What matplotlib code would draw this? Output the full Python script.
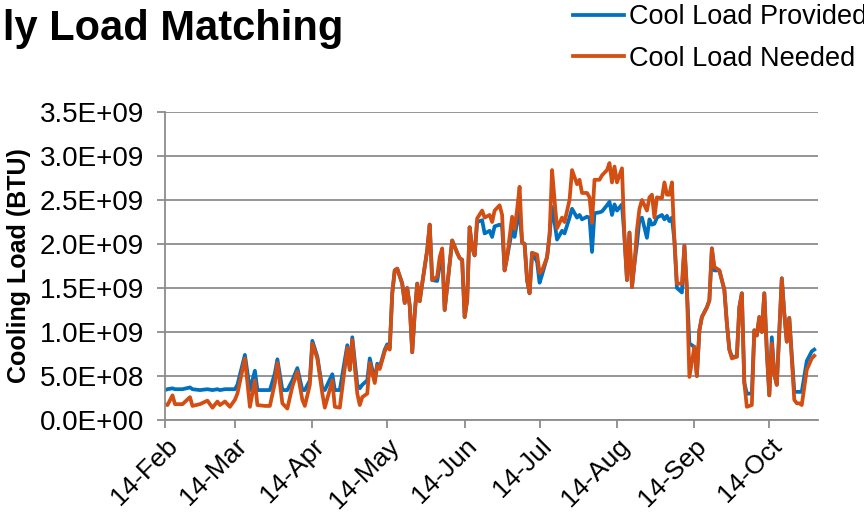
import matplotlib
matplotlib.use("Agg")
import matplotlib.pyplot as plt
import matplotlib.dates as mdates
from matplotlib.ticker import FuncFormatter, MultipleLocator
import pandas as pd

plt.rcParams['font.family'] = ['Liberation Sans', 'DejaVu Sans']

# days after 14-Feb
days = [0, 1, 3, 4, 7, 10, 11, 14, 17, 19,
        21, 22, 24, 26, 28, 29, 32, 34, 36, 37,
        40, 42, 44, 45, 47, 49, 51, 53, 55, 56,
        58, 59, 61, 63, 64, 67, 68, 70, 73, 74,
        75, 77, 78, 79, 81, 82, 84, 85, 86, 88,
        89, 90, 91, 92, 93, 95, 96, 97, 98, 99,
        100, 101, 102, 103, 105, 106, 107, 109, 110, 111,
        112, 114, 115, 117, 118, 119, 120, 121, 122, 123,
        124, 125, 127, 128, 130, 131, 132, 134, 135, 136,
        137, 139, 140, 141, 142, 143, 144, 145, 146, 147,
        149, 150, 151, 153, 154, 155, 156, 157, 159, 160,
        162, 163, 165, 166, 167, 169, 170, 171, 172, 174,
        175, 177, 178, 179, 180, 181, 183, 184, 185, 186,
        187, 188, 189, 190, 191, 193, 194, 195, 196, 197,
        199, 200, 201, 202, 203, 204, 205, 207, 208, 209,
        210, 212, 213, 214, 215, 217, 218, 219, 220, 222,
        224, 225, 226, 227, 229, 230, 231, 232, 233, 235,
        236, 237, 238, 239, 240, 241, 242, 243, 244, 245,
        247, 248, 249, 250, 252, 253, 254, 255, 257, 259,
        260]

# values in 1E+09 BTU
provided = [0.34, 0.35, 0.36, 0.35, 0.35, 0.37, 0.35, 0.34, 0.35, 0.34,
            0.35, 0.34, 0.35, 0.35, 0.35, 0.40, 0.74, 0.34, 0.56, 0.34,
            0.34, 0.34, 0.53, 0.69, 0.34, 0.34, 0.45, 0.59, 0.34, 0.34,
            0.45, 0.90, 0.72, 0.36, 0.34, 0.52, 0.34, 0.34, 0.85, 0.57,
            0.94, 0.40, 0.36, 0.40, 0.45, 0.70, 0.45, 0.64, 0.60, 0.80,
            0.86, 0.82, 1.44, 1.70, 1.72, 1.55, 1.33, 1.50, 1.30, 0.77,
            1.21, 1.55, 1.35, 1.55, 1.93, 2.22, 1.59, 1.58, 1.75, 1.90,
            1.25, 1.78, 2.04, 1.90, 1.84, 1.82, 1.17, 1.36, 2.19, 1.96,
            1.87, 2.25, 2.27, 2.12, 2.15, 2.08, 2.20, 2.22, 2.20, 1.70,
            1.85, 2.16, 2.08, 2.25, 2.37, 2.02, 2.00, 1.59, 1.44, 1.90,
            1.80, 1.56, 1.65, 1.85, 2.10, 2.42, 2.25, 2.05, 2.15, 2.12,
            2.30, 2.40, 2.30, 2.33, 2.28, 2.31, 2.30, 1.91, 2.35, 2.36,
            2.37, 2.44, 2.48, 2.33, 2.45, 2.38, 2.45, 2.08, 1.59, 2.13,
            1.51, 1.78, 2.00, 2.28, 2.30, 2.07, 2.28, 2.22, 2.23, 2.30,
            2.33, 2.28, 2.32, 2.26, 2.30, 2.04, 1.50, 1.45, 1.98, 1.48,
            0.87, 0.83, 0.50, 1.02, 1.17, 1.28, 1.36, 1.95, 1.70, 1.70,
            1.48, 1.10, 0.80, 0.72, 0.72, 1.28, 1.44, 0.42, 0.30, 0.30,
            1.02, 0.96, 1.17, 1.00, 1.44, 0.78, 0.28, 0.94, 0.52, 0.40,
            1.61, 1.21, 0.89, 1.16, 0.32, 0.32, 0.32, 0.32, 0.67, 0.78,
            0.80]

needed = [0.18, 0.17, 0.28, 0.18, 0.18, 0.26, 0.16, 0.18, 0.22, 0.14,
          0.21, 0.17, 0.21, 0.15, 0.23, 0.30, 0.70, 0.15, 0.45, 0.17,
          0.16, 0.16, 0.42, 0.65, 0.19, 0.13, 0.38, 0.55, 0.23, 0.16,
          0.40, 0.87, 0.70, 0.30, 0.14, 0.45, 0.15, 0.14, 0.82, 0.57,
          0.91, 0.30, 0.17, 0.26, 0.30, 0.65, 0.42, 0.62, 0.58, 0.78,
          0.84, 0.80, 1.44, 1.70, 1.72, 1.55, 1.33, 1.50, 1.30, 0.77,
          1.21, 1.55, 1.35, 1.55, 1.93, 2.22, 1.59, 1.63, 1.85, 1.95,
          1.25, 1.78, 2.04, 1.90, 1.84, 1.82, 1.17, 1.36, 2.19, 1.96,
          1.87, 2.29, 2.38, 2.30, 2.33, 2.25, 2.38, 2.44, 2.33, 1.70,
          1.85, 2.31, 2.17, 2.39, 2.65, 2.02, 2.00, 1.59, 1.44, 1.90,
          1.88, 1.67, 1.70, 1.85, 2.10, 2.84, 2.50, 2.18, 2.30, 2.25,
          2.50, 2.84, 2.68, 2.73, 2.58, 2.58, 2.53, 2.24, 2.73, 2.73,
          2.78, 2.84, 2.92, 2.70, 2.88, 2.70, 2.86, 2.08, 1.59, 2.13,
          1.51, 1.78, 2.16, 2.40, 2.50, 2.38, 2.53, 2.56, 2.30, 2.53,
          2.52, 2.70, 2.56, 2.56, 2.70, 2.04, 1.55, 1.55, 1.98, 1.48,
          0.49, 0.83, 0.50, 1.02, 1.17, 1.28, 1.36, 1.95, 1.74, 1.70,
          1.48, 1.10, 0.80, 0.70, 0.72, 1.28, 1.44, 0.42, 0.15, 0.17,
          1.02, 0.96, 1.17, 1.00, 1.44, 0.78, 0.28, 0.87, 0.52, 0.40,
          1.61, 1.21, 0.89, 1.16, 0.23, 0.19, 0.19, 0.17, 0.57, 0.70,
          0.73]

start = pd.Timestamp('2013-02-14')
dates = start + pd.to_timedelta(days, unit='D')
tick_dates = pd.date_range('2013-02-14', '2013-10-14', freq=pd.DateOffset(months=1))

BLUE = '#0070C0'
ORANGE = '#D24E12'
GRID = '#8C8C8C'

fig = plt.figure(figsize=(8.64, 5.13), dpi=100)
ax = fig.add_axes([165 / 864, 1 - 420 / 513, (818 - 165) / 864, (420 - 112) / 513])

ax.plot(dates, [v * 1e9 for v in provided], color=BLUE, lw=2.7, label='Cool Load Provided')
ax.plot(dates, [v * 1e9 for v in needed], color=ORANGE, lw=2.7, label='Cool Load Needed')

ax.set_ylim(0, 3.5e9)
ax.set_xlim(start, start + pd.Timedelta(days=261.5))
ax.yaxis.set_major_locator(MultipleLocator(0.5e9))
ax.yaxis.set_major_formatter(FuncFormatter(lambda v, p: f"{v:.1E}"))
ax.set_xticks(tick_dates)
ax.xaxis.set_major_formatter(mdates.DateFormatter('%d-%b'))

ax.grid(axis='y', color=GRID, lw=1.3)
ax.set_axisbelow(True)
for s in ['top', 'right']:
    ax.spines[s].set_visible(False)
for s in ['left', 'bottom']:
    ax.spines[s].set_color(GRID)
    ax.spines[s].set_linewidth(1.3)
ax.tick_params(axis='both', colors=GRID, labelcolor='black', labelsize=20, width=1.3, length=6)
ax.tick_params(axis='y', pad=9)
ax.tick_params(axis='x', pad=4, labelsize=19)
for lbl in ax.get_xticklabels():
    lbl.set_rotation(45)
    lbl.set_ha('right')
    lbl.set_rotation_mode('anchor')

ax.set_ylabel('Cooling Load (BTU)', fontsize=18, fontweight='bold', labelpad=6)

fig.text(343 / 864, 1 - 40 / 513, 'Daily Load Matching', fontsize=30, fontweight='bold',
         ha='right', va='baseline')

fig.legend(loc='upper left', bbox_to_anchor=(573 / 864, 1 - 4 / 513), frameon=False,
           fontsize=19.5, handlelength=1.9, handletextpad=0.15, borderpad=0,
           borderaxespad=0, labelspacing=0.58)

fig.savefig('out.png', dpi=100)
